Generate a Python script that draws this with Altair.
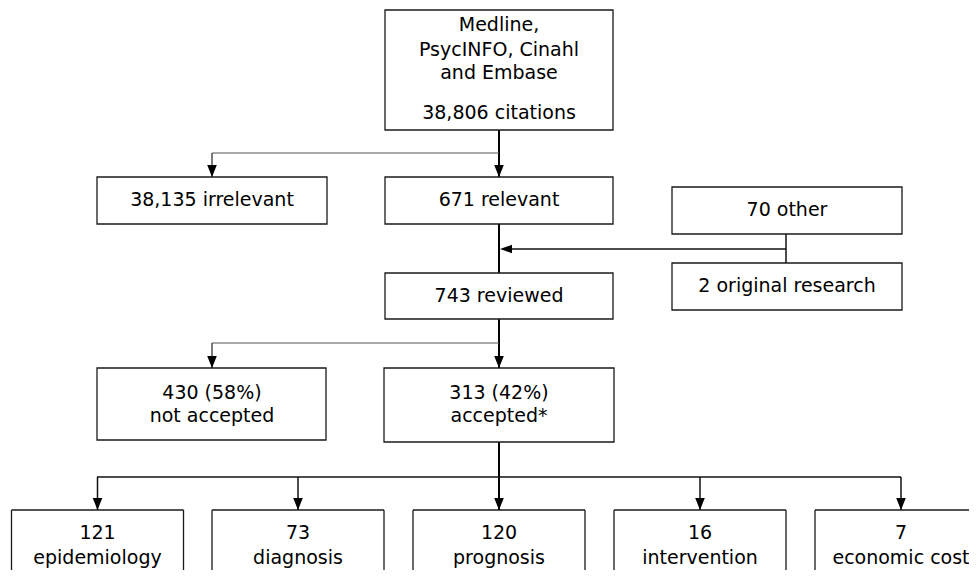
import altair as alt
import pandas as pd

sources = ["Medline,", "PsycINFO, Cinahl", "and Embase"]
total_citations = 38806
irrelevant_n = 38135
relevant_n = 671
other_n = 70
original_n = 2
reviewed_n = 743
not_accepted_n, not_accepted_pct = 430, 58
accepted_n, accepted_pct = 313, 42
categories = ["epidemiology", "diagnosis", "prognosis", "intervention", "economic cost"]
category_counts = [121, 73, 120, 16, 7]

# ---------------- layout (diagram coordinates) ----------------
cat_centers = [97.5, 298, 499, 700, 901]
cat_half = 86
cat_top, cat_bottom = 510, 620

boxes = pd.DataFrame(
    [
        dict(x=385, x2=613, y=10, y2=130),
        dict(x=97, x2=327, y=177, y2=224),
        dict(x=385, x2=613, y=177, y2=224),
        dict(x=672, x2=902, y=187, y2=234),
        dict(x=672, x2=902, y=263, y2=310),
        dict(x=385, x2=613, y=273, y2=319),
        dict(x=97, x2=326, y=368, y2=440),
        dict(x=384, x2=614, y=368, y2=442),
    ]
)

texts = [
    (499, 25, sources[0]),
    (499, 50, sources[1]),
    (499, 73, sources[2]),
    (499, 113, f"{total_citations:,} citations"),
    (212, 200, f"{irrelevant_n:,} irrelevant"),
    (499, 200, f"{relevant_n} relevant"),
    (787, 210, f"{other_n} other"),
    (787, 286, f"{original_n} original research"),
    (499, 296, f"{reviewed_n} reviewed"),
    (212, 393, f"{not_accepted_n} ({not_accepted_pct}%)"),
    (212, 416, "not accepted"),
    (499, 393, f"{accepted_n} ({accepted_pct}%)"),
    (499, 416, "accepted*"),
]
for c, n, name in zip(cat_centers, category_counts, categories):
    texts.append((c, 533, str(n)))
    texts.append((c, 558, name))
texts = pd.DataFrame(texts, columns=["x", "y", "label"])

rules = [
    # main trunk (thicker)
    (499, 130, 499, 177, 2.0, "#000000"),
    (499, 224, 499, 273, 2.0, "#000000"),
    (499, 319, 499, 368, 2.0, "#000000"),
    (499, 442, 499, 510, 2.0, "#000000"),
    # side branches
    (499, 153, 212, 153, 1.0, "#555555"),
    (212, 153, 212, 177, 1.2, "#222222"),
    (786, 234, 786, 263, 1.5, "#111111"),
    (786, 249, 505, 249, 1.5, "#111111"),
    (499, 343, 212, 343, 1.0, "#555555"),
    (212, 343, 212, 368, 1.2, "#222222"),
    (97, 477, 901, 477, 1.5, "#111111"),
]
for c in [97.5, 298, 700, 901]:
    rules.append((c, 477, c, 510, 1.5, "#111111"))
rules = pd.DataFrame(rules, columns=["x", "y", "x2", "y2", "w", "col"])

# bottom category boxes run off the page: draw their visible edges
edges = []
for i, c in enumerate(cat_centers):
    left, right = c - cat_half, c + cat_half
    edges.append((left, cat_top, left, cat_bottom))
    edges.append((left, cat_top, right, cat_top))
    if i < len(cat_centers) - 1:
        edges.append((right, cat_top, right, cat_bottom))
edges = pd.DataFrame(edges, columns=["x", "y", "x2", "y2"])

down_arrows = pd.DataFrame(
    [(499, 177), (212, 177), (499, 368), (212, 368)] + [(c, 510) for c in cat_centers],
    columns=["x", "y"],
)
left_arrows = pd.DataFrame([(500, 249)], columns=["x", "y"])

# ---------------- scales ----------------
xs = alt.Scale(domain=[8, 969], nice=False, zero=False)
ys = alt.Scale(domain=[8, 570], nice=False, zero=False, reverse=True)
FONT = "DejaVu Sans"
X = alt.X("x:Q", scale=xs, axis=None)
Y = alt.Y("y:Q", scale=ys, axis=None)

rule_layer = alt.Chart(rules).mark_rule().encode(
    x=X, y=Y, x2="x2:Q", y2="y2:Q",
    strokeWidth=alt.StrokeWidth("w:Q", scale=None, legend=None),
    color=alt.Color("col:N", scale=None, legend=None),
)

box_layer = alt.Chart(boxes).mark_rect(
    fill="white", stroke="#1a1a1a", strokeWidth=1.3
).encode(x=X, x2="x2:Q", y=Y, y2="y2:Q")

edge_layer = alt.Chart(edges).mark_rule(color="#1a1a1a", strokeWidth=1.3).encode(
    x=X, y=Y, x2="x2:Q", y2="y2:Q"
)

text_layer = alt.Chart(texts).mark_text(
    font=FONT, fontSize=19, color="#000000", align="center", baseline="middle"
).encode(x=X, y=Y, text="label:N")

down_layer = alt.Chart(down_arrows).mark_point(
    shape="M0,0 L-0.8,-2 L0.8,-2 Z", filled=True, color="black", size=144, opacity=1
).encode(x=X, y=Y)

left_layer = alt.Chart(left_arrows).mark_point(
    shape="M0,0 L2,-0.7 L2,0.7 Z", filled=True, color="black", size=144, opacity=1
).encode(x=X, y=Y)

chart = (
    alt.layer(rule_layer, box_layer, edge_layer, text_layer, down_layer, left_layer)
    .properties(width=961, height=562, padding=0, autosize="none", background="white")
    .configure_view(stroke=None)
)

chart.save("out.html", embed_options={"renderer": "svg", "actions": False})
